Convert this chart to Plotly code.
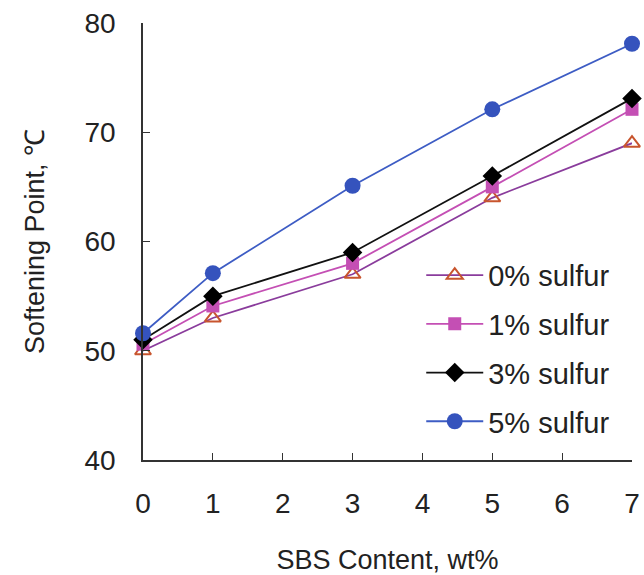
import plotly.graph_objects as go

sbs = [0, 1, 3, 5, 7]
s0 = [50.0, 53.0, 57.0, 64.0, 69.0]
s1 = [50.6, 54.1, 58.0, 65.0, 72.1]
s3 = [51.0, 55.0, 59.0, 66.0, 73.1]
s5 = [51.6, 57.1, 65.1, 72.1, 78.1]
names = ["0% sulfur", "1% sulfur", "3% sulfur", "5% sulfur"]
x_ticks = [0, 1, 2, 3, 4, 5, 6, 7]
y_ticks = [40, 50, 60, 70, 80]

styles = [
    dict(line=dict(color="#8a3c9c", width=1.8),
         marker=dict(symbol="triangle-up-open", size=14, color="#c8552e", line=dict(width=2, color="#c8552e"))),
    dict(line=dict(color="#c44fb4", width=1.8),
         marker=dict(symbol="square", size=13, color="#c44fb4")),
    dict(line=dict(color="#111111", width=1.8),
         marker=dict(symbol="diamond", size=15, color="#000000")),
    dict(line=dict(color="#3d5cc4", width=1.8),
         marker=dict(symbol="circle", size=16, color="#3553bd")),
]

fig = go.Figure()
for i, (name, ys) in enumerate(zip(names, [s0, s1, s3, s5])):
    fig.add_trace(go.Scatter(x=sbs, y=ys, mode="lines+markers", name=name,
                             legendgroup=str(i), cliponaxis=False, **styles[i]))

fig.update_layout(
    width=644, height=575,
    margin=dict(l=143, r=12, t=23, b=115),
    paper_bgcolor="white", plot_bgcolor="white",
    font=dict(family="Liberation Sans, Arial, sans-serif", size=28, color="#222222"),
    showlegend=True,
    legend=dict(x=0.569, y=0.481, xanchor="left", yanchor="top",
                bgcolor="rgba(0,0,0,0)", tracegroupgap=8,
                font=dict(size=29, color="#222222"), itemwidth=57),
    xaxis=dict(range=[0, 7], tickvals=x_ticks, ticks="inside", ticklen=7,
               showline=True, linecolor="#333333", linewidth=1.5, tickcolor="#333333",
               showgrid=False, zeroline=False, ticklabelstandoff=18, automargin=False,
               tickfont=dict(size=28),
               title=dict(text="SBS Content, wt%", standoff=39, font=dict(size=27))),
    yaxis=dict(range=[40, 80], tickvals=y_ticks, ticks="inside", ticklen=7,
               showline=True, linecolor="#333333", linewidth=1.5, tickcolor="#333333",
               showgrid=False, zeroline=False, ticklabelstandoff=20, automargin=False,
               tickfont=dict(size=28),
               title=dict(text="Softening Point, ℃", standoff=32, font=dict(size=27))),
)

fig.write_html("out.html")
